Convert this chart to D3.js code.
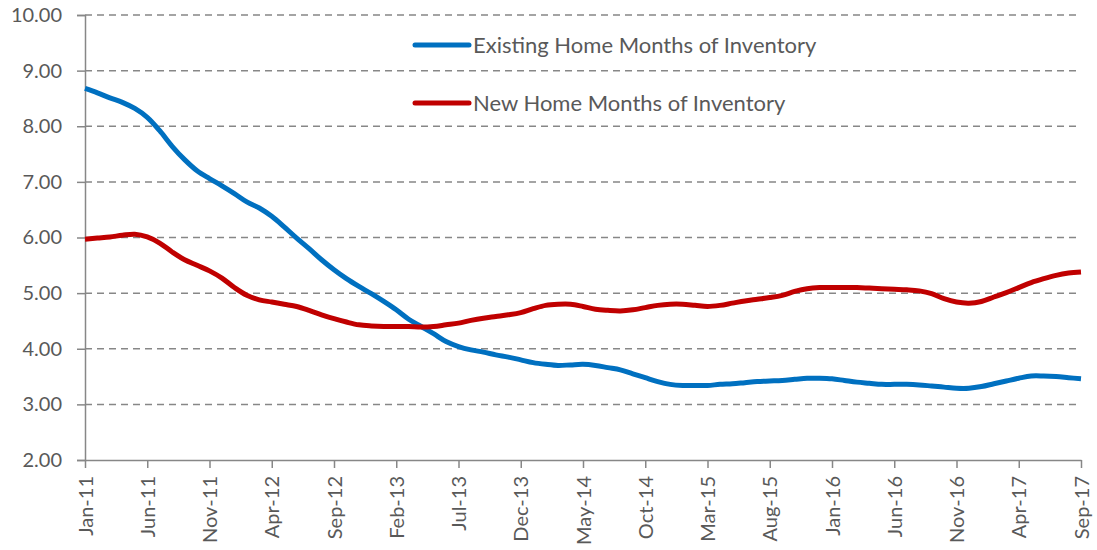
<!DOCTYPE html>
<html>
<head>
<meta charset="utf-8">
<script src="https://cdn.jsdelivr.net/npm/d3@7"></script>
<style>
  body { margin: 0; background: #fff; }
  svg text { font-family: Lato, "Open Sans", sans-serif; fill: #595959; }
</style>
</head>
<body>
<svg id="chart" width="1097" height="550"></svg>
<script>
// months Jan-11 .. Sep-17
const months = d3.timeMonths(new Date(2011, 0, 1), new Date(2017, 9, 1));
const fmt = d3.timeFormat('%b-%y');
const monthLabels = months.map(d => fmt(d));

const existing = [
  8.68, 8.60, 8.51, 8.43, 8.32, 8.16, 7.92, 7.64, 7.40, 7.20,
  7.06, 6.93, 6.79, 6.64, 6.53, 6.38, 6.19, 5.99, 5.80, 5.60,
  5.42, 5.26, 5.12, 4.99, 4.85, 4.70, 4.53, 4.40, 4.27, 4.13,
  4.04, 3.98, 3.94, 3.89, 3.85, 3.80, 3.75, 3.72, 3.70, 3.71,
  3.72, 3.70, 3.66, 3.62, 3.55, 3.48, 3.41, 3.36, 3.34, 3.34,
  3.34, 3.36, 3.37, 3.39, 3.41, 3.42, 3.43, 3.45, 3.47, 3.47,
  3.46, 3.43, 3.40, 3.38, 3.36, 3.36, 3.36, 3.35, 3.33, 3.31,
  3.29, 3.29, 3.32, 3.37, 3.42, 3.47, 3.51, 3.51, 3.50, 3.48,
  3.46
];

const newHome = [
  5.97, 5.99, 6.01, 6.04, 6.06, 6.01, 5.90, 5.74, 5.60, 5.50,
  5.40, 5.27, 5.10, 4.96, 4.88, 4.84, 4.80, 4.76, 4.69, 4.61,
  4.54, 4.48, 4.43, 4.41, 4.40, 4.40, 4.40, 4.39, 4.40, 4.43,
  4.46, 4.51, 4.55, 4.58, 4.61, 4.65, 4.72, 4.78, 4.80, 4.80,
  4.76, 4.71, 4.69, 4.68, 4.70, 4.74, 4.78, 4.80, 4.80, 4.78,
  4.76, 4.78, 4.82, 4.86, 4.89, 4.92, 4.96, 5.03, 5.08, 5.10,
  5.10, 5.10, 5.10, 5.09, 5.08, 5.07, 5.06, 5.04, 4.99, 4.90,
  4.84, 4.82, 4.85, 4.93, 5.01, 5.10, 5.19, 5.26, 5.32, 5.36,
  5.38
];

const yTicks = [2, 3, 4, 5, 6, 7, 8, 9, 10];
const seriesNames = ['Existing Home Months of Inventory', 'New Home Months of Inventory'];
const seriesColors = ['#0070C0', '#C00000'];

const svg = d3.select('#chart');

const x = d3.scalePoint().domain(monthLabels).range([85, 1081]);
const y = d3.scaleLinear().domain([2, 10]).range([460, 15]);

// gridlines
svg.append('g')
  .selectAll('line')
  .data(yTicks.filter(t => t > 2))
  .enter()
  .append('line')
  .attr('x1', 85).attr('x2', 1081)
  .attr('y1', d => y(d)).attr('y2', d => y(d))
  .attr('stroke', '#878787')
  .attr('stroke-width', 1.5)
  .attr('stroke-dasharray', '7,5');

// y axis
const yAxis = svg.append('g')
  .attr('transform', 'translate(85,0)')
  .call(d3.axisLeft(y).tickValues(yTicks).tickFormat(d3.format('.2f')).tickSize(8).tickPadding(15));
yAxis.select('.domain').attr('stroke', '#878787').attr('stroke-width', 1.5);
yAxis.selectAll('.tick line').attr('stroke', '#878787').attr('stroke-width', 1.5);
yAxis.selectAll('text').style('font-size', '20px').attr('fill', '#595959');

// x axis
const xTickVals = monthLabels.filter((d, i) => i % 5 === 0);
const xAxis = svg.append('g')
  .attr('transform', 'translate(0,460)')
  .call(d3.axisBottom(x).tickValues(xTickVals).tickSize(8).tickSizeOuter(0));
xAxis.select('.domain').attr('stroke', '#878787').attr('stroke-width', 1.5);
xAxis.selectAll('.tick line').attr('stroke', '#878787').attr('stroke-width', 1.5);
xAxis.selectAll('text')
  .style('font-size', '20px')
  .attr('fill', '#595959')
  .attr('transform', 'rotate(-90)')
  .attr('x', -16)
  .attr('y', 0)
  .attr('dy', '0.35em')
  .style('text-anchor', 'end');

// lines
const line = d3.line()
  .x((d, i) => x(monthLabels[i]))
  .y(d => y(d))
  .curve(d3.curveCatmullRom);

[existing, newHome].forEach((s, k) => {
  svg.append('path')
    .datum(s)
    .attr('d', line)
    .attr('fill', 'none')
    .attr('stroke', seriesColors[k])
    .attr('stroke-width', 5)
    .attr('stroke-linejoin', 'round');
});

// legend
const legend = svg.append('g')
  .selectAll('g')
  .data(seriesNames)
  .enter()
  .append('g')
  .attr('transform', (d, i) => 'translate(415,' + (45 + i * 58) + ')');

legend.append('line')
  .attr('x1', 0).attr('x2', 54)
  .attr('stroke', (d, i) => seriesColors[i])
  .attr('stroke-width', 5)
  .attr('stroke-linecap', 'round');

legend.append('text')
  .attr('x', 58)
  .attr('dy', '0.35em')
  .style('font-size', '22px')
  .text(d => d);
</script>
</body>
</html>
